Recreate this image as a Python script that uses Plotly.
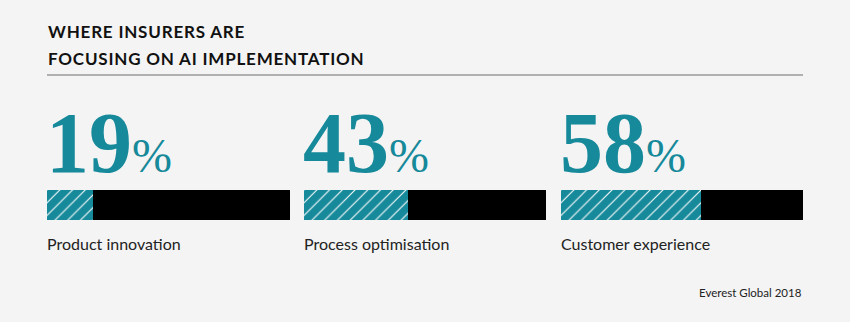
import plotly.graph_objects as go

categories = ["Product innovation", "Process optimisation", "Customer experience"]
values = [19, 43, 58]
title_lines = ["WHERE INSURERS ARE", "FOCUSING ON AI IMPLEMENTATION"]
source = "Everest Global 2018"

W, H = 850, 322
TEAL = "#16899a"
BG = "#f4f4f4"
panels = [(47, 290), (304, 546), (561, 803)]


def px(x):
    return x / W


def py(y):
    return 1 - y / H


fig = go.Figure()
layout = dict()
annotations = []
for i, (cat, v) in enumerate(zip(categories, values)):
    sfx = "" if i == 0 else str(i + 1)
    fig.add_trace(go.Bar(
        x=[v], y=[cat], orientation="h", xaxis="x" + sfx, yaxis="y" + sfx,
        width=1, showlegend=False, hoverinfo="skip",
        marker=dict(color=TEAL, line_width=0,
                    pattern=dict(shape="/", fgcolor="white", bgcolor=TEAL,
                                 size=9, solidity=0.12, fillmode="replace"))))
    fig.add_trace(go.Bar(
        x=[100 - v], y=[cat], orientation="h", xaxis="x" + sfx, yaxis="y" + sfx,
        width=1, showlegend=False, hoverinfo="skip",
        marker=dict(color="black", line_width=0)))
    x0, x1 = panels[i]
    layout["xaxis" + sfx] = dict(domain=[px(x0), px(x1)], range=[0, 100],
                                 visible=False, fixedrange=True,
                                 anchor="y" + sfx)
    layout["yaxis" + sfx] = dict(domain=[py(220), py(190)], range=[-0.5, 0.5],
                                 visible=False, fixedrange=True,
                                 anchor="x" + sfx)
    annotations.append(dict(
        x=px(x0 - 3), y=py(193), xref="paper", yref="paper",
        xanchor="left", yanchor="bottom", showarrow=False,
        text=f"<b>{v}</b><span style='font-size:48px;font-weight:normal'>%</span>",
        font=dict(family="Liberation Serif", size=86, color=TEAL)))
    annotations.append(dict(
        x=px(x0 - 2), y=py(243), xref="paper", yref="paper",
        xanchor="left", yanchor="middle", showarrow=False,
        text=cat, font=dict(family="Lato", size=16, color="#222222")))

for j, line in enumerate(title_lines):
    annotations.append(dict(
        x=px(46), y=py(31 + 27 * j), xref="paper", yref="paper",
        xanchor="left", yanchor="middle", showarrow=False,
        text=f"<b><span style='letter-spacing:0.8px'>{line}</span></b>",
        font=dict(family="Lato", size=17, color="#111111")))

annotations.append(dict(
    x=px(804), y=py(292), xref="paper", yref="paper",
    xanchor="right", yanchor="middle", showarrow=False,
    text=source, font=dict(family="Lato", size=11.5, color="#222222")))

fig.update_layout(
    width=W, height=H, margin=dict(l=0, r=0, t=0, b=0),
    paper_bgcolor=BG, plot_bgcolor=BG, barmode="stack", bargap=0,
    annotations=annotations,
    shapes=[dict(type="line", xref="paper", yref="paper",
                 x0=px(47), x1=px(803), y0=py(75), y1=py(75),
                 line=dict(color="#9a9a9a", width=1.5))],
    **layout)

fig.write_html("out.html")
